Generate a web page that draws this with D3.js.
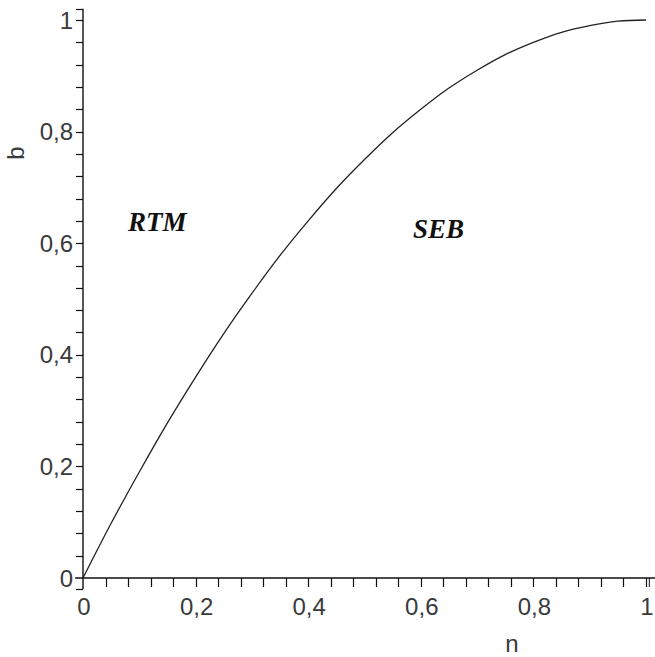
<!DOCTYPE html>
<html><head><meta charset="utf-8">
<script src="https://cdn.jsdelivr.net/npm/d3@7"></script>
<style>html,body{margin:0;padding:0;background:#fff;}svg{display:block;}</style>
</head><body>
<script>
// Data
const nValues = [0, 0.05, 0.1, 0.15, 0.2, 0.25, 0.3, 0.35, 0.4, 0.45, 0.5, 0.55, 0.6, 0.65, 0.7, 0.75, 0.8, 0.85, 0.9, 0.95, 1];
const bValues = [0, 0.098, 0.19, 0.278, 0.36, 0.438, 0.51, 0.578, 0.64, 0.698, 0.75, 0.798, 0.84, 0.878, 0.91, 0.938, 0.96, 0.978, 0.99, 0.998, 1];
const xTickLabels = ["0", "0,2", "0,4", "0,6", "0,8", "1"];
const yTickLabels = ["0", "0,2", "0,4", "0,6", "0,8", "1"];
const majorTicks = [0, 0.2, 0.4, 0.6, 0.8, 1];
const minorTicks = d3.range(0, 26).map(i => +(i * 0.04).toFixed(2));
const regionLabels = [{text: "RTM", n: 0.08, b: 0.622}, {text: "SEB", n: 0.586, b: 0.61}];

const W = 655, H = 657;
const svg = d3.select("body").append("svg").attr("width", W).attr("height", H);
const x = d3.scaleLinear().domain([0, 1]).range([83, 646]);
const y = d3.scaleLinear().domain([0, 1]).range([578, 20]);

const axisColor = "#111";
const textColor = "#3a3a3a";
const font = "'Liberation Sans', Arial, sans-serif";

// x axis line
svg.append("line").attr("x1", x(-0.014)).attr("x2", W).attr("y1", y(0)).attr("y2", y(0))
  .attr("stroke", axisColor).attr("stroke-width", 1.4);
// y axis line
svg.append("line").attr("x1", x(0)).attr("x2", x(0)).attr("y1", y(-0.02)).attr("y2", y(1.02))
  .attr("stroke", axisColor).attr("stroke-width", 1.4);

// x ticks
svg.append("g").selectAll("line").data(minorTicks.filter(d => d > 0)).join("line")
  .attr("x1", d => Math.round(x(d)) + 0.5).attr("x2", d => Math.round(x(d)) + 0.5)
  .attr("y1", y(0)).attr("y2", y(0) + 9)
  .attr("stroke", axisColor).attr("stroke-width", 1.2);
// x end cap
svg.append("line").attr("x1", x(1.005) + 0.5).attr("x2", x(1.005) + 0.5)
  .attr("y1", y(0)).attr("y2", y(0) + 9).attr("stroke", axisColor).attr("stroke-width", 1);

// y ticks
svg.append("g").selectAll("line").data(minorTicks.filter(d => d > 0).concat([1.02, -0.02])).join("line")
  .attr("x1", x(0) - 7).attr("x2", x(0))
  .attr("y1", d => Math.round(y(d)) + 0.5).attr("y2", d => Math.round(y(d)) + 0.5)
  .attr("stroke", axisColor).attr("stroke-width", 1.2);

// x tick labels
svg.append("g").selectAll("text").data(majorTicks).join("text")
  .attr("x", d => x(d) + 1).attr("y", 615)
  .attr("text-anchor", "middle")
  .attr("font-family", font).attr("font-size", 24).attr("fill", textColor)
  .text((d, i) => xTickLabels[i]);

// y tick labels
svg.append("g").selectAll("text").data(majorTicks).join("text")
  .attr("x", 73).attr("y", d => y(d) + 8.5)
  .attr("text-anchor", "end")
  .attr("font-family", font).attr("font-size", 24).attr("fill", textColor)
  .text((d, i) => yTickLabels[i]);

// axis titles
svg.append("text").attr("x", 512).attr("y", 652).attr("text-anchor", "middle")
  .attr("font-family", font).attr("font-size", 24).attr("fill", textColor).text("n");
svg.append("text").attr("transform", "translate(24,153) rotate(-90)").attr("text-anchor", "middle")
  .attr("font-family", font).attr("font-size", 24).attr("fill", textColor).text("b");

// curve
const pts = nValues.map((n, i) => [n, bValues[i]]);
svg.append("path").datum(pts)
  .attr("d", d3.line().x(d => x(d[0])).y(d => y(d[1])).curve(d3.curveCatmullRom))
  .attr("fill", "none").attr("stroke", "#222").attr("stroke-width", 1.3);

// region labels
svg.append("g").selectAll("text").data(regionLabels).join("text")
  .attr("x", d => x(d.n)).attr("y", d => y(d.b))
  .attr("font-family", "'Liberation Serif', 'Times New Roman', serif")
  .attr("font-style", "italic").attr("font-weight", "bold")
  .attr("font-size", 27).attr("fill", "#111")
  .text(d => d.text);
</script>
</body></html>
